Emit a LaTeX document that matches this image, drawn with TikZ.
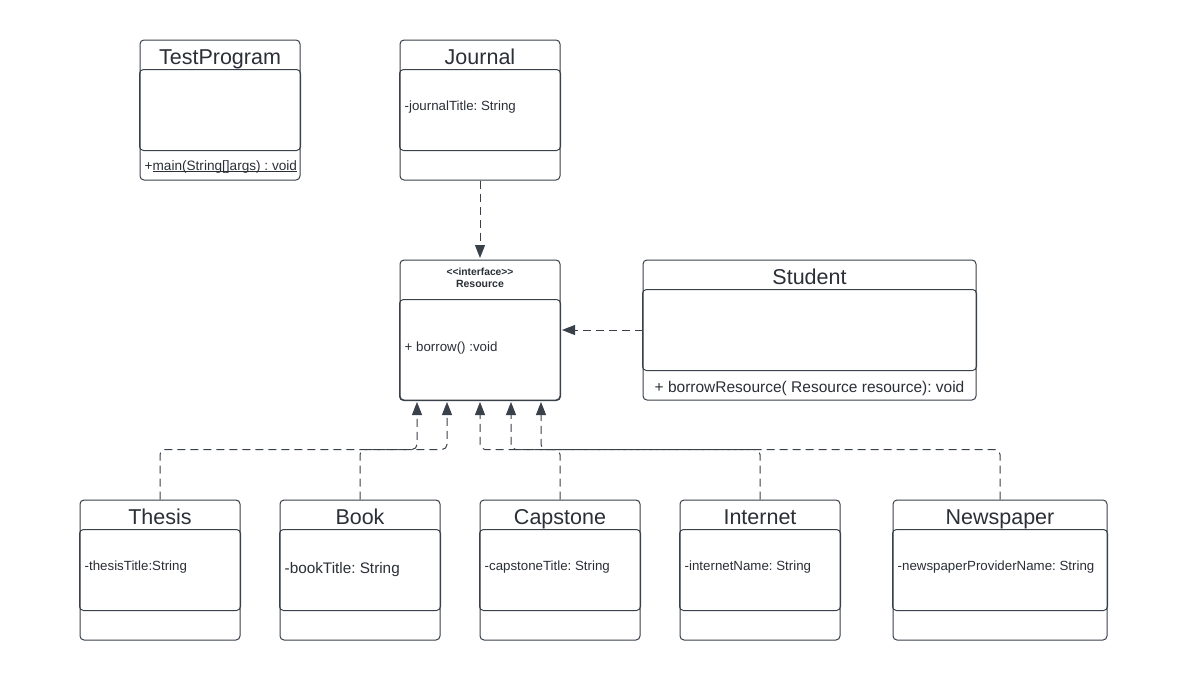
\documentclass[tikz,border=0pt]{standalone}
\usepackage{fontspec}
\setmainfont{Liberation Sans}
\usetikzlibrary{arrows.meta,calc}
\definecolor{ln}{HTML}{3A414A}
\definecolor{tx}{HTML}{2B2F36}
\frenchspacing
\newcommand\myul[1]{\setbox0\hbox{#1}\rlap{\rule[-1.8pt]{\wd0}{0.8pt}}\box0}
\begin{document}
\begin{tikzpicture}[x=1pt,y=-1pt,
  cls/.style={draw=ln, line width=1pt, rounded corners=4pt, inner sep=0pt},
  comp/.style={draw=ln, line width=1pt, rounded corners=4pt},
  ttl/.style={text=tx, font=\fontsize{21.5}{24}\selectfont, inner sep=0pt, anchor=base},
  attr/.style={text=tx, font=\fontsize{13.3}{15}\selectfont, inner sep=0pt, anchor=base west},
  dep/.style={draw=ln, line width=1pt, dash pattern=on 8pt off 5pt,
    -{Triangle[length=13pt,width=10pt]}, shorten >=1.5pt, rounded corners=5pt}]
\fill[white] (0,0) rectangle (1200,680);
\useasboundingbox (0,0) rectangle (1200,680);

% class boxes
\node[cls, minimum width=160pt, minimum height=140pt] (tp) at (220,110) {};
\node[cls, minimum width=160pt, minimum height=140pt] (jr) at (480,110) {};
\node[cls, minimum width=160pt, minimum height=140pt] (res) at (480,330) {};
\node[cls, minimum width=333pt, minimum height=140pt] (st) at (809.5,330) {};
\node[cls, minimum width=160pt, minimum height=140pt] (th) at (160,570) {};
\node[cls, minimum width=160pt, minimum height=140pt] (bk) at (360,570) {};
\node[cls, minimum width=160pt, minimum height=140pt] (cp) at (560,570) {};
\node[cls, minimum width=160pt, minimum height=140pt] (in) at (760,570) {};
\node[cls, minimum width=214pt, minimum height=140pt] (nw) at (1000,570) {};

% compartments
\foreach \n in {tp,jr,th,bk,cp,in,nw,st}{
  \draw[comp] ($(\n.north west)+(0,30)$) rectangle ($(\n.south east)+(0,-30)$);
}
\draw[comp] ($(res.north west)+(0,40)$) rectangle (res.south east);

% titles
\node[ttl] (tpt) at ($(tp.north)+(0,24.5)$) {TestProgram};
\node[ttl] (jrt) at ($(jr.north)+(0,24.5)$) {Journal};
\node[ttl] (stt) at ($(st.north)+(0,24.5)$) {Student};
\node[ttl] (tht) at ($(th.north)+(0,24.5)$) {Thesis};
\node[ttl] (bkt) at ($(bk.north)+(0,24.5)$) {Book};
\node[ttl] (cpt) at ($(cp.north)+(0,24.5)$) {Capstone};
\node[ttl] (int) at ($(in.north)+(0,24.5)$) {Internet};
\node[ttl] (nwt) at ($(nw.north)+(0,24.5)$) {Newspaper};
\node[text=tx, font=\bfseries\fontsize{10.3}{11}\selectfont, inner sep=0pt, align=center] (rest) at ($(res.north)+(0,18.5)$)
  {<\kern0pt<interface>\kern0pt>\\[1pt]\fontsize{10.5}{11}\selectfont Resource};

% members
\node[attr, font=\fontsize{13.6}{15}\selectfont] (tpm) at ($(tp.south west)+(5,-10.5)$) {+\myul{main(String[]args) : void}};
\node[attr] (jra) at ($(jr.north west)+(5,71)$) {-journalTitle: String};
\node[attr] (resm) at ($(res.north west)+(5,92)$) {+ borrow() :void};
\node[attr, font=\fontsize{15.5}{17}\selectfont] (stm) at ($(st.south west)+(12,-8.5)$) {+ borrowResource( Resource resource): void};
\node[attr] (tha) at ($(th.north west)+(5,71)$) {-thesisTitle:String};
\node[attr, font=\fontsize{15.3}{17}\selectfont] (bka) at ($(bk.north west)+(5,73.5)$) {-bookTitle: String};
\node[attr] (cpa) at ($(cp.north west)+(5,71)$) {-capstoneTitle: String};
\node[attr] (ina) at ($(in.north west)+(5,71)$) {-internetName: String};
\node[attr] (nwa) at ($(nw.north west)+(5,71)$) {-newspaperProviderName: String};

% connectors
\coordinate (r1) at ($(res.south)+(-63,0)$);
\coordinate (r2) at ($(res.south)+(-33,0)$);
\coordinate (r3) at (res.south);
\coordinate (r4) at ($(res.south)+(31,0)$);
\coordinate (r5) at ($(res.south)+(61,0)$);
\draw[dep] (jr.south) -- (res.north);
\draw[dep] (st.west) -- (res.east);
\draw[dep] (th.north) -- ++(0,-50) -| (r1);
\draw[dep] (bk.north) -- ++(0,-50) -| (r2);
\draw[dep] (cp.north) -- ++(0,-50) -| (r3);
\draw[dep] (in.north) -- ++(0,-50) -| (r4);
\draw[dep] (nw.north) -- ++(0,-50) -| (r5);
\end{tikzpicture}
\end{document}
